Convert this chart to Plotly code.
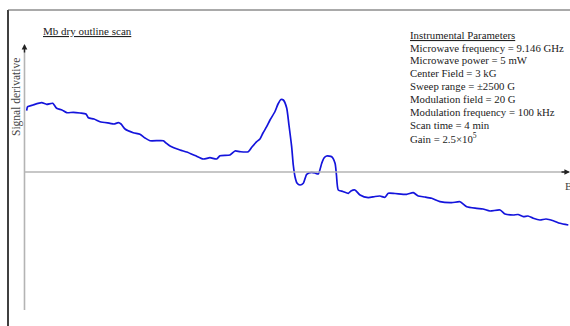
import plotly.graph_objects as go

# Magnetic field (G) and first-derivative signal (arbitrary units)
field_G = [497, 506, 555, 636, 682, 738, 774, 823, 867, 928, 990, 1045, 1067, 1119, 1175,
           1267, 1304, 1344, 1369, 1406, 1482, 1544, 1591, 1637, 1760, 1785, 1822, 1914,
           1976, 2053, 2129, 2191, 2253, 2284, 2376, 2422, 2469, 2545, 2579, 2623, 2653,
           2681, 2715, 2746, 2792, 2820, 2847, 2869, 2900, 2921, 2946, 2961, 2977, 2995,
           3023, 3054, 3085, 3131, 3162, 3192, 3224, 3245, 3270, 3316, 3347, 3360, 3377,
           3420, 3470, 3494, 3531, 3578, 3654, 3716, 3762, 3809, 3839, 3901, 4009, 4070,
           4116, 4178, 4240, 4317, 4425, 4502, 4564, 4656, 4714, 4779, 4872, 4918, 4994,
           5038, 5087, 5130, 5179, 5241, 5297, 5364, 5426, 5503]
signal = [6.13, 6.53, 6.7, 6.93, 6.77, 6.87, 6.37, 6.2, 5.93, 5.97, 5.9, 5.8, 5.43, 5.3, 5.03,
          4.87, 4.8, 4.93, 4.8, 4.3, 3.93, 3.77, 3.4, 3.13, 3.13, 2.9, 2.6, 2.2,
          2.0, 1.65, 1.3, 1.43, 1.3, 1.63, 1.7, 2.1, 2.03, 2.03, 2.5, 3.03, 3.3,
          3.9, 4.53, 5.2, 6.05, 6.8, 7.25, 7.2, 6.4, 4.7, 2.53, 0.7, -0.47, -1.1,
          -1.3, -1.13, -0.23, -0.03, -0.1, -0.2, 0.87, 1.4, 1.6, 1.53, 0.87, -0.3, -1.8,
          -1.95, -2.13, -1.9, -1.8, -2.3, -2.57, -2.45, -2.4, -2.53, -2.13, -2.15, -2.23, -2.07,
          -2.4, -2.5, -2.63, -2.97, -3.07, -2.97, -3.47, -3.63, -3.7, -3.9, -3.8, -4.2, -4.3,
          -4.25, -4.47, -4.4, -4.63, -4.8, -4.7, -4.87, -5.13, -5.3]

title_text = "Mb dry outline scan"
y_label = "Signal derivative"
x_label = "B"
params_title = "Instrumental Parameters"
params = [
    "Microwave frequency = 9.146 GHz",
    "Microwave power = 5 mW",
    "Center Field = 3 kG",
    "Sweep range = \u00b12500 G",
    "Modulation field = 20 G",
    "Modulation frequency = 100 kHz",
    "Scan time = 4 min",
    "Gain = 2.5\u00d710<sup>5</sup>",
]

W, H = 570, 326
X_MIN, X_MAX = 250.5, 5518.5
Y_MIN, Y_MAX = -15.4, 17.2
SERIF = "Liberation Serif, Times New Roman, serif"

def px(x):
    return X_MIN + x / W * (X_MAX - X_MIN)

def py(y):
    return Y_MAX - y / H * (Y_MAX - Y_MIN)

fig = go.Figure()
fig.add_trace(go.Scatter(x=field_G, y=signal, mode="lines",
                         line=dict(color="#1414dc", width=1.7, shape="spline", smoothing=0.6),
                         hoverinfo="skip", showlegend=False))

shapes = [
    # frame lines
    dict(type="line", xref="paper", yref="paper", x0=8/W, x1=8/W, y0=0, y1=1-10/H,
         line=dict(color="black", width=1.5)),
    dict(type="line", xref="paper", yref="paper", x0=8/W, x1=1, y0=1-10/H, y1=1-10/H,
         line=dict(color="#555555", width=1)),
    # axes
    dict(type="line", xref="x", yref="y", x0=px(24.5), x1=px(24.5), y0=py(310), y1=py(50),
         line=dict(color="#b4b4b4", width=1.6)),
    dict(type="line", xref="x", yref="y", x0=px(24.5), x1=px(566), y0=0, y1=0,
         line=dict(color="#b4b4b4", width=1.6)),
]

annotations = [
    # arrowheads
    dict(x=px(24.5), y=py(44), ax=px(24.5), ay=py(54), xref="x", yref="y", axref="x", ayref="y",
         text="", showarrow=True, arrowhead=2, arrowsize=0.8, arrowwidth=1.4, arrowcolor="#222"),
    dict(x=px(570), y=0, ax=px(560), ay=0, xref="x", yref="y", axref="x", ayref="y",
         text="", showarrow=True, arrowhead=2, arrowsize=0.8, arrowwidth=1.4, arrowcolor="#222"),
    dict(x=px(41), y=py(31), xref="x", yref="y", text="<u>" + title_text + "</u>",
         showarrow=False, xanchor="left", yanchor="middle",
         font=dict(family=SERIF, size=11, color="#222")),
    dict(x=px(16), y=py(97), xref="x", yref="y", text=y_label, textangle=-90,
         showarrow=False, xanchor="center", yanchor="middle",
         font=dict(family=SERIF, size=11.5, color="#444")),
    dict(x=px(563), y=py(186), xref="x", yref="y", text=x_label,
         showarrow=False, xanchor="left", yanchor="middle",
         font=dict(family=SERIF, size=11, color="#444")),
    dict(x=px(408), y=py(35), xref="x", yref="y", text="<u>" + params_title + "</u>",
         showarrow=False, xanchor="left", yanchor="middle",
         font=dict(family=SERIF, size=10.8, color="#222")),
]
for i, t in enumerate(params):
    annotations.append(dict(x=px(408), y=py(47.5 + i * 12.9), xref="x", yref="y", text=t,
                            showarrow=False, xanchor="left", yanchor="middle",
                            font=dict(family=SERIF, size=10.8, color="#222")))

fig.update_layout(
    width=W, height=H,
    margin=dict(l=0, r=0, t=0, b=0),
    paper_bgcolor="white", plot_bgcolor="white",
    xaxis=dict(range=[X_MIN, X_MAX], visible=False, fixedrange=True),
    yaxis=dict(range=[Y_MIN, Y_MAX], visible=False, fixedrange=True),
    shapes=shapes, annotations=annotations,
)

fig.write_html("out.html", config=dict(displayModeBar=False))
